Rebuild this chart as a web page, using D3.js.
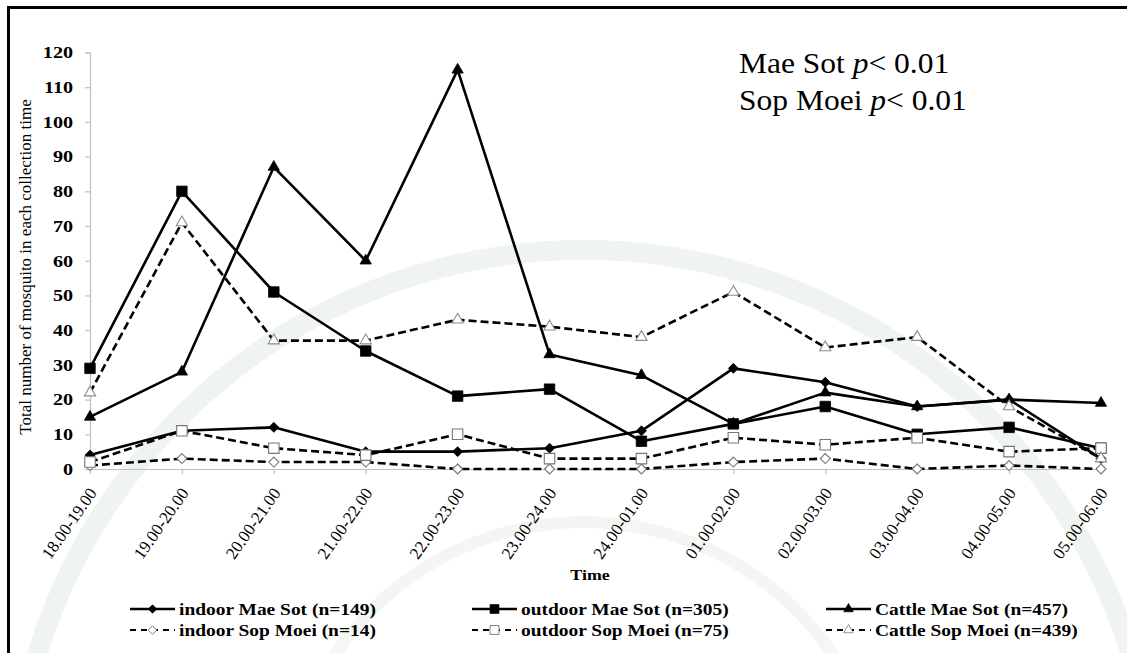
<!DOCTYPE html>
<html>
<head>
<meta charset="utf-8">
<script src="https://cdn.jsdelivr.net/npm/d3@7/dist/d3.min.js"></script>
<style>
  html, body { margin: 0; padding: 0; background: #fff; }
  svg { display: block; }
  text { font-family: "Liberation Serif", "Times New Roman", serif; fill: #000; }
</style>
</head>
<body>
<svg id="chart" width="1127" height="653"></svg>
<script>
// Collection periods (hourly, 18.00 to 06.00)
const categories = ["18.00-19.00", "19.00-20.00", "20.00-21.00", "21.00-22.00",
  "22.00-23.00", "23.00-24.00", "24.00-01.00", "01.00-02.00", "02.00-03.00",
  "03.00-04.00", "04.00-05.00", "05.00-06.00"];

// Mosquitoes collected per hour
const indoorMaeSot    = [4, 11, 12, 5, 5, 6, 11, 29, 25, 18, 20, 3];
const outdoorMaeSot   = [29, 80, 51, 34, 21, 23, 8, 13, 18, 10, 12, 6];
const cattleMaeSot    = [15, 28, 87, 60, 115, 33, 27, 13, 22, 18, 20, 19];
const indoorSopMoei   = [1, 3, 2, 2, 0, 0, 0, 2, 3, 0, 1, 0];
const outdoorSopMoei  = [2, 11, 6, 4, 10, 3, 3, 9, 7, 9, 5, 6];
const cattleSopMoei   = [22, 71, 37, 37, 43, 41, 38, 51, 35, 38, 18, 3];

const seriesLabels = ["indoor Mae Sot (n=149)", "outdoor Mae Sot (n=305)", "Cattle Mae Sot (n=457)",
  "indoor Sop Moei (n=14)", "outdoor Sop Moei (n=75)", "Cattle Sop Moei (n=439)"];
const yTicks = [0, 10, 20, 30, 40, 50, 60, 70, 80, 90, 100, 110, 120];
const yTitle = "Total number of mosquito in each collection time";
const xTitle = "Time";
const notes = [["Mae Sot ", "p", "< 0.01"], ["Sop Moei ", "p", "< 0.01"]];

const series = [
  { values: indoorMaeSot,   label: seriesLabels[0], shape: "diamond",  dashed: false },
  { values: outdoorMaeSot,  label: seriesLabels[1], shape: "square",   dashed: false },
  { values: cattleMaeSot,   label: seriesLabels[2], shape: "triangle", dashed: false },
  { values: indoorSopMoei,  label: seriesLabels[3], shape: "diamond",  dashed: true },
  { values: outdoorSopMoei, label: seriesLabels[4], shape: "square",   dashed: true },
  { values: cattleSopMoei,  label: seriesLabels[5], shape: "triangle", dashed: true }
];

const svg = d3.select("#chart");
const W = 1127, H = 653;

// faint seal rings behind the chart
const wm = svg.append("g").attr("class", "watermark");
const cx0 = 584, cy0 = 822;
wm.append("circle").attr("cx", cx0).attr("cy", cy0).attr("r", 572)
  .attr("fill", "none").attr("stroke", "#f0f4f0").attr("stroke-width", 20);
wm.append("circle").attr("cx", cx0).attr("cy", cy0).attr("r", 300)
  .attr("fill", "none").attr("stroke", "#f3f6f3").attr("stroke-width", 12);

// frame
svg.append("line").attr("x1", 7).attr("x2", W).attr("y1", 7.5).attr("y2", 7.5)
  .attr("stroke", "#000").attr("stroke-width", 3);
svg.append("line").attr("x1", 8.5).attr("x2", 8.5).attr("y1", 6).attr("y2", H)
  .attr("stroke", "#000").attr("stroke-width", 3);

const x = d3.scalePoint().domain(categories).range([90, 1101]);
const y = d3.scaleLinear().domain([0, 120]).range([469, 52.5]);

function stretch(sel, k) {
  sel.each(function () {
    const w = this.getComputedTextLength();
    d3.select(this).attr("textLength", w * k).attr("lengthAdjust", "spacingAndGlyphs");
  });
}

// y axis
const gy = svg.append("g").attr("transform", `translate(${x(categories[0])},0)`)
  .call(d3.axisLeft(y).tickValues(yTicks).tickSize(5).tickPadding(12));
gy.select(".domain").attr("stroke", "#bfbfbf").attr("stroke-width", 1.2);
gy.selectAll(".tick line").attr("stroke", "#bfbfbf").attr("stroke-width", 1.2);
gy.selectAll(".tick text").style("font-family", "'Liberation Serif', serif")
  .style("font-size", "16.5px").style("font-weight", "bold").attr("fill", "#000");
stretch(gy.selectAll(".tick text"), 1.22);

// x axis
const gx = svg.append("g").attr("transform", `translate(0,${y(0)})`)
  .call(d3.axisBottom(x).tickSize(5).tickSizeOuter(0));
gx.select(".domain").attr("stroke", "#bfbfbf").attr("stroke-width", 1.2);
gx.selectAll(".tick line").attr("stroke", "#bfbfbf").attr("stroke-width", 1.2);
gx.selectAll(".tick text")
  .style("font-family", "'Liberation Serif', serif").style("font-size", "17px")
  .attr("fill", "#000").attr("text-anchor", "end")
  .attr("x", 0).attr("y", 0).attr("dy", 0)
  .attr("transform", "translate(7,24) rotate(-55)");

// axis titles
svg.append("text").attr("transform", "translate(31,267) rotate(-90)")
  .attr("text-anchor", "middle").style("font-size", "17px").text(yTitle);
const xt = svg.append("text").attr("x", 590).attr("y", 580).attr("text-anchor", "middle")
  .style("font-size", "15.5px").style("font-weight", "bold").text(xTitle);
stretch(xt, 1.15);

// markers
function markerPath(shape) {
  if (shape === "square") return d3.symbol(d3.symbolSquare, 110)();
  if (shape === "triangle") return d3.symbol(d3.symbolTriangle, 55)();
  const r = 5;
  return `M0,${-r}L${r},0L0,${r}L${-r},0Z`;
}
function styleMarker(sel, s) {
  if (s.dashed) {
    sel.attr("fill", "#fff").attr("stroke", s.shape === "triangle" ? "#8c8c8c" : "#777")
      .attr("stroke-width", 1.1);
  } else {
    sel.attr("fill", "#000").attr("stroke", "#000").attr("stroke-width", 0.8);
  }
}

const line = d3.line().x((d, i) => x(categories[i])).y(d => y(d));
const plot = svg.append("g");
series.forEach(s => {
  const g = plot.append("g");
  g.append("path").datum(s.values).attr("d", line).attr("fill", "none")
    .attr("stroke", "#000").attr("stroke-width", 2.6)
    .attr("stroke-dasharray", s.dashed ? "8,4" : null)
    .attr("stroke-linejoin", "round");
  g.selectAll("path.mk").data(s.values).join("path").attr("class", "mk")
    .attr("d", markerPath(s.shape))
    .attr("transform", (d, i) => `translate(${x(categories[i])},${y(d)})`)
    .call(styleMarker, s);
});

// significance notes
notes.forEach((n, i) => {
  const t = svg.append("text").attr("x", 739).attr("y", 73 + i * 37)
    .style("font-size", "30px");
  t.append("tspan").text(n[0]);
  t.append("tspan").style("font-style", "italic").text(n[1]);
  t.append("tspan").text(n[2]);
  stretch(t, 1.05);
});

// legend
const legCols = [130, 472, 826];
const legRows = [609, 630];
series.forEach((s, i) => {
  const col = i % 3, row = Math.floor(i / 3);
  const lx = legCols[col], ly = legRows[row];
  const g = svg.append("g").attr("transform", `translate(${lx},${ly})`);
  g.append("line").attr("x1", 0).attr("x2", 45).attr("y1", 0).attr("y2", 0)
    .attr("stroke", "#000").attr("stroke-width", s.dashed ? 2 : 2.4)
    .attr("stroke-dasharray", s.dashed ? "6,5" : null);
  g.append("path").attr("d", markerPath(s.shape)).attr("transform", "translate(22.5,0) scale(0.85)")
    .call(styleMarker, s);
  const t = g.append("text").attr("x", 49).attr("y", 6)
    .style("font-size", "17.5px").style("font-weight", "bold").text(s.label);
  stretch(t, 1.11);
});
</script>
</body>
</html>
